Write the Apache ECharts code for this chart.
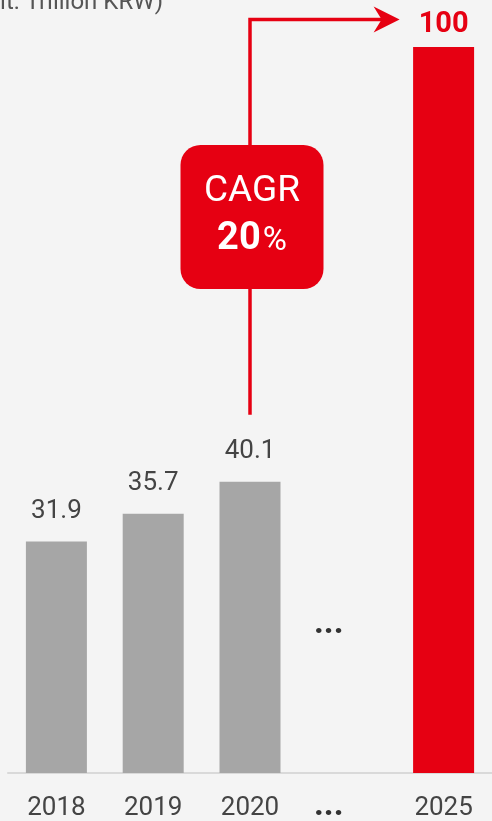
<!DOCTYPE html>
<html>
<head>
<meta charset="utf-8">
<script src="https://cdn.jsdelivr.net/npm/echarts@6/dist/echarts.min.js"></script>
<style>
  html, body { margin: 0; padding: 0; background: #f4f4f4; }
  #chart { width: 492px; height: 821px; }
</style>
</head>
<body>
<div id="chart"></div>
<script>
// Market size by year (trillion KRW); the "..." slot marks the skipped years
const years = ['2018', '2019', '2020', '...', '2025'];
const marketSize = [31.9, 35.7, 40.1, null, 100];
const cagrText = ['CAGR', '20', '%'];
const unitText = '(Unit: Trillion KRW)';
const gapMark = '...';

const GRAY = '#a6a6a6';
const RED = '#e60012';
const TEXT = '#444444';
const FONT = 'Roboto, "Noto Sans", sans-serif';

const chart = echarts.init(document.getElementById('chart'));

const barData = marketSize.map((v, i) => {
  if (v === null) return null;
  const isTarget = i === marketSize.length - 1;
  return {
    value: v,
    itemStyle: { color: isTarget ? RED : GRAY },
    label: isTarget
      ? { color: RED, fontWeight: 'bold', fontSize: 29, distance: 8 }
      : { color: TEXT, fontSize: 26, distance: 17 }
  };
});

chart.setOption({
  backgroundColor: '#f4f4f4',
  animation: false,
  // plot area runs a few pixels past the right edge so the last bar sits near it
  grid: { left: 8, width: 488, top: 47, bottom: 48, containLabel: false },
  xAxis: {
    type: 'category',
    data: years,
    axisLine: { lineStyle: { color: '#d9d9d9', width: 2 } },
    axisTick: { show: false },
    axisLabel: {
      interval: 0,
      color: TEXT,
      fontSize: 26,
      fontFamily: FONT,
      margin: 22,
      // the gap slot gets its own dots, drawn below
      formatter: v => v === gapMark ? '' : v
    }
  },
  yAxis: {
    type: 'value',
    min: 0,
    max: 100,
    show: false
  },
  series: [{
    type: 'bar',
    data: barData,
    barWidth: 61,
    label: {
      show: true,
      position: 'top',
      fontFamily: FONT,
      formatter: p => p.value
    }
  }]
});

// Annotation: arrow from the 2020 bar up to the 2025 value, with the CAGR badge
function drawAnnotation() {
  const [x2020, yTop2020] = chart.convertToPixel({ gridIndex: 0 }, ['2020', marketSize[2]]);
  const [x2025] = chart.convertToPixel({ gridIndex: 0 }, ['2025', 0]);
  const [xGap, yBase] = chart.convertToPixel({ gridIndex: 0 }, [gapMark, 0]);
  const lineBottom = yTop2020 - 67;
  const lineTop = 19.5;
  const arrowEnd = x2025 - 44;
  const boxW = 143, boxH = 144;
  const boxTop = 145;
  const cx = x2020 + 2;
  const dotsX = xGap - 18;

  chart.setOption({
    graphic: [
      {
        type: 'text',
        x: 163, y: 3,
        style: { text: unitText, fill: '#555555', font: '24px ' + FONT, align: 'right', verticalAlign: 'middle' }
      },
      {
        type: 'polyline',
        shape: { points: [[x2020, lineBottom], [x2020, lineTop], [arrowEnd - 14, lineTop]] },
        style: { stroke: RED, lineWidth: 3.5, fill: null }
      },
      {
        type: 'polygon',
        shape: { points: [[arrowEnd, lineTop], [arrowEnd - 26, lineTop - 13], [arrowEnd - 18, lineTop], [arrowEnd - 26, lineTop + 13]] },
        style: { fill: RED }
      },
      {
        type: 'rect',
        shape: { x: cx - boxW / 2, y: boxTop, width: boxW, height: boxH, r: 20 },
        style: { fill: RED }
      },
      {
        type: 'text',
        x: cx, y: boxTop + 47,
        style: { text: cagrText[0], fill: '#ffffff', font: '37px ' + FONT, align: 'center', verticalAlign: 'middle' }
      },
      {
        type: 'text',
        x: cx, y: boxTop + 94,
        style: {
          text: '{b|' + cagrText[1] + '}{p|' + cagrText[2] + '}',
          align: 'center', verticalAlign: 'middle',
          rich: {
            b: { fill: '#ffffff', fontSize: 38, fontWeight: 'bold', fontFamily: FONT, verticalAlign: 'bottom' },
            p: { fill: '#ffffff', fontSize: 33, fontFamily: FONT, padding: [0, 0, 0, 2], verticalAlign: 'bottom' }
          }
        }
      },
      {
        type: 'text',
        x: dotsX, y: 624,
        style: { text: gapMark, fill: '#333333', font: 'bold 34px ' + FONT, align: 'center', verticalAlign: 'middle' }
      },
      {
        type: 'text',
        x: dotsX, y: yBase + 33,
        style: { text: gapMark, fill: '#333333', font: 'bold 34px ' + FONT, align: 'center', verticalAlign: 'middle' }
      }
    ]
  });
}
drawAnnotation();
</script>
</body>
</html>
